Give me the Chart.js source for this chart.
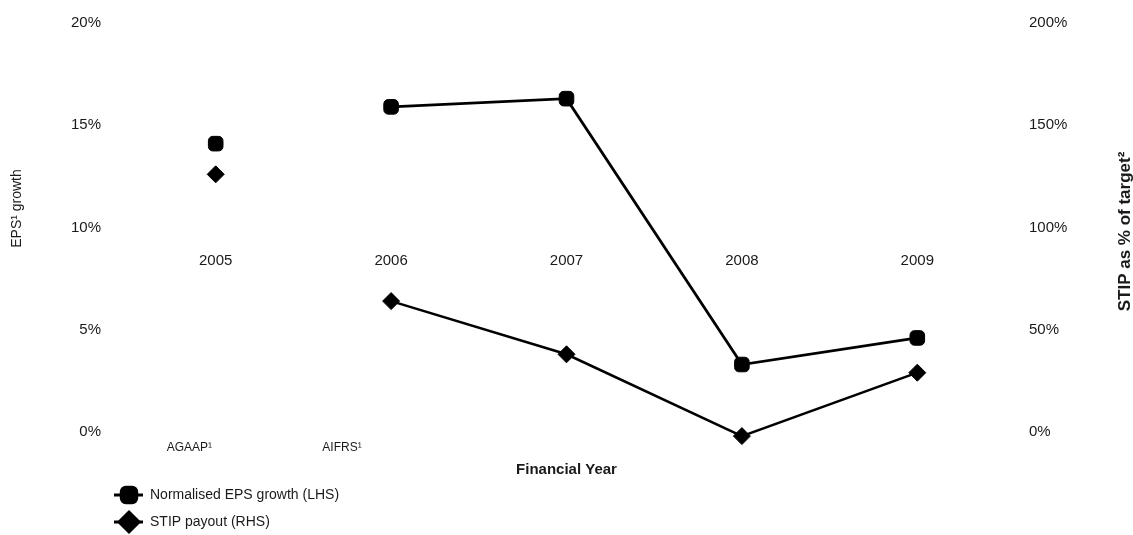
<!DOCTYPE html>
<html>
<head>
<meta charset="utf-8">
<script src="https://cdn.jsdelivr.net/npm/chart.js@4/dist/chart.umd.min.js"></script>
<style>
  html, body { margin: 0; padding: 0; background: #fff; }
  #wrap { width: 1133px; height: 535px; }
</style>
</head>
<body>
<div id="wrap"><canvas id="myChart"></canvas></div>
<script>
// data
const years = ['2005', '2006', '2007', '2008', '2009']
const epsGrowth = [14.1, 15.9, 16.3, 3.3, 4.6]      // % (LHS)
const stipPayout = [126, 64, 38, -2, 29]           // % of target (RHS)
const leftTicks = [0, 5, 10, 15, 20]
const rightTicks = [0, 50, 100, 150, 200]
const notes = [{ text: 'AGAAP¹', at: -0.15 }, { text: 'AIFRS¹', at: 0.72 }]

Chart.defaults.font.family = "'Liberation Sans', Arial, sans-serif"
Chart.defaults.color = '#1a1a1a'

// 2005 sits apart from the rest (different accounting basis)
const noFirstSegment = ctx => ctx.p0DataIndex === 0 ? 'rgba(0,0,0,0)' : undefined

// fixed width for the side axes, and no extra top/bottom padding from the tick padding
const sideAxisFit = s => {
    s.width = 128
    s.paddingTop = 0
    s.paddingBottom = 0
}

// titles, notes and the legend drawn on the canvas
const extras = {
    id: 'extras',
    afterDraw(chart) {
        const ctx = chart.ctx
        const area = chart.chartArea
        const x = chart.scales.x
        ctx.save()
        ctx.fillStyle = '#1a1a1a'
        ctx.textAlign = 'center'
        ctx.textBaseline = 'middle'

        ctx.save()
        ctx.translate(17, (area.top + area.bottom) / 2 - 19)
        ctx.rotate(-Math.PI / 2)
        ctx.font = "14px 'Liberation Sans', Arial"
        ctx.fillText('EPS¹ growth', 0, 0)
        ctx.restore()

        ctx.save()
        ctx.translate(1125, (area.top + area.bottom) / 2 + 4)
        ctx.rotate(-Math.PI / 2)
        ctx.font = "bold 17px 'Liberation Sans', Arial"
        ctx.fillText('STIP as % of target²', 0, 0)
        ctx.restore()

        ctx.font = "12px 'Liberation Sans', Arial"
        notes.forEach(n => ctx.fillText(n.text, x.getPixelForValue(n.at), area.bottom + 16))

        // legend
        ctx.textAlign = 'left'
        ctx.font = "14px 'Liberation Sans', Arial"
        chart.data.datasets.forEach((ds, i) => {
            const y = 495 + i * 27
            ctx.strokeStyle = '#000'
            ctx.lineWidth = 3
            ctx.beginPath()
            ctx.moveTo(114, y)
            ctx.lineTo(143, y)
            ctx.stroke()
            ctx.fillStyle = '#000'
            Chart.helpers.drawPoint(ctx, {
                pointStyle: ds.pointStyle,
                radius: ds.pointStyle === 'rectRot' ? 10 : 9,
                borderWidth: 1
            }, 129, y)
            ctx.fillStyle = '#1a1a1a'
            ctx.fillText(ds.label, 150, y)
        })
        ctx.restore()
    }
}

const data = {
    labels: years,
    datasets: [{
        label: 'Normalised EPS growth (LHS)',
        data: epsGrowth,
        yAxisID: 'y',
        borderColor: '#000',
        backgroundColor: '#000',
        borderWidth: 2.8,
        pointStyle: 'rectRounded',
        pointRadius: 8.5,
        pointBorderWidth: 1,
        clip: false,
        segment: { borderColor: noFirstSegment }
    }, {
        label: 'STIP payout (RHS)',
        data: stipPayout,
        yAxisID: 'y1',
        borderColor: '#000',
        backgroundColor: '#000',
        borderWidth: 2.5,
        pointStyle: 'rectRot',
        pointRadius: 8.5,
        pointBorderWidth: 1,
        clip: false,
        segment: { borderColor: noFirstSegment }
    }]
}

const config = {
    type: 'line',
    data: data,
    plugins: [extras],
    options: {
        responsive: true,
        maintainAspectRatio: false,
        animation: false,
        layout: { padding: { top: 23, left: 0, right: 0, bottom: 0 } },
        plugins: {
            legend: { display: false },
            tooltip: { enabled: false }
        },
        scales: {
            x: {
                type: 'category',
                offset: true,
                position: { y: 9 },
                grid: { display: false, drawTicks: false },
                border: { display: false },
                ticks: { font: { size: 15 }, padding: 4 }
            },
            xTitle: {
                type: 'category',
                axis: 'x',
                labels: years,
                offset: true,
                position: 'bottom',
                grid: { display: false, drawTicks: false },
                border: { display: false },
                ticks: { display: false },
                title: {
                    display: true,
                    text: 'Financial Year',
                    font: { size: 15, weight: 'bold' },
                    padding: { top: 0, bottom: 56 }
                },
                afterFit: s => { s.height = 103 }
            },
            y: {
                position: 'left',
                min: 0,
                max: 20,
                afterBuildTicks: s => { s.ticks = leftTicks.map(v => ({ value: v })) },
                ticks: { font: { size: 15 }, padding: 27, callback: v => v + '%' },
                grid: { display: false, drawTicks: false },
                border: { display: false },
                afterFit: sideAxisFit
            },
            y1: {
                position: 'right',
                min: 0,
                max: 200,
                afterBuildTicks: s => { s.ticks = rightTicks.map(v => ({ value: v })) },
                ticks: { font: { size: 15 }, padding: 24, callback: v => v + '%' },
                grid: { display: false, drawTicks: false },
                border: { display: false },
                afterFit: sideAxisFit
            }
        }
    }
}

const myChart = new Chart(document.getElementById('myChart'), config)
</script>
</body>
</html>
